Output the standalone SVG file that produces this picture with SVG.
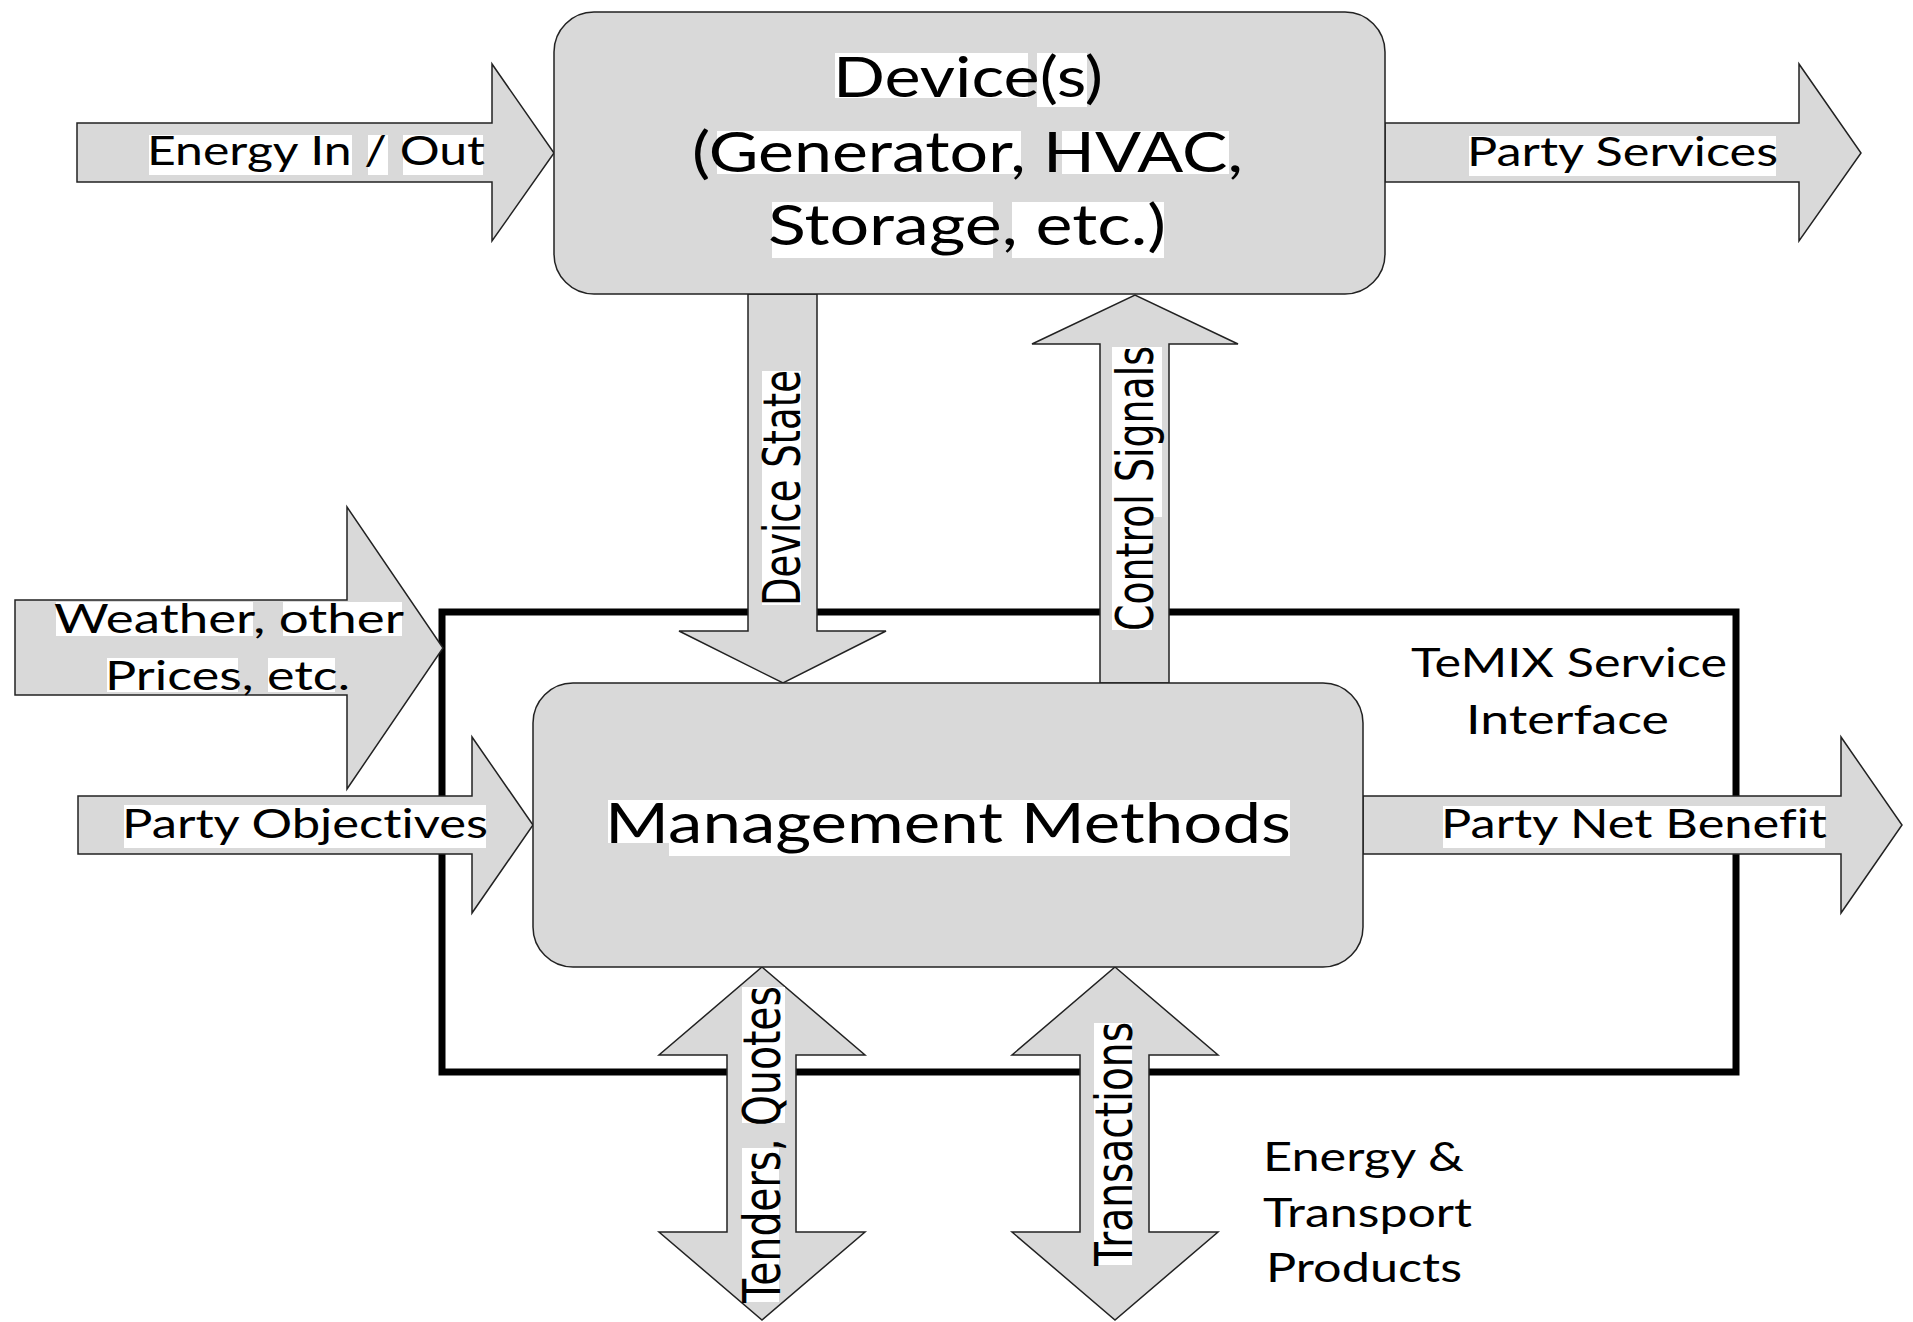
<svg xmlns="http://www.w3.org/2000/svg" width="1913" height="1322" viewBox="0 0 1913 1322">
<style>
.shape{fill:#d9d9d9;stroke:#222;stroke-width:1.5;stroke-linejoin:miter}
.hl{fill:#ffffff;stroke:none}
.t{font-family:Lato,"Liberation Sans",sans-serif;fill:#000;font-variant-ligatures:none}
.v{font-family:"DejaVu Sans","Liberation Sans",sans-serif;font-size:52px;fill:#000}
.frame{fill:none;stroke:#000;stroke-width:7}
</style>
<rect width="1913" height="1322" fill="#ffffff"/>

<g id="temix-interface">
<rect class="frame" x="442" y="612" width="1294" height="460"/>
<text class="t" x="1411" y="677" font-size="41" textLength="316" lengthAdjust="spacingAndGlyphs">TeMIX Service</text>
<text class="t" x="1466" y="734" font-size="41" textLength="203" lengthAdjust="spacingAndGlyphs">Interface</text>
</g>

<g id="connectors">
<g id="energy-in-out">
<polygon class="shape" points="77,123 492,123 492,64 554,153 492,241 492,182 77,182"/>
<rect class="hl" x="149" y="135" width="203" height="40"/><rect class="hl" x="368" y="135" width="20" height="40"/><rect class="hl" x="403" y="135" width="80" height="40"/>
<text class="t" x="147" y="165" font-size="40" textLength="338" lengthAdjust="spacingAndGlyphs">Energy In / Out</text>
</g>
<g id="party-services">
<polygon class="shape" points="1385,123 1799,123 1799,64 1861,153 1799,241 1799,182 1385,182"/>
<rect class="hl" x="1469" y="136" width="307" height="40"/>
<text class="t" x="1467" y="166" font-size="40" textLength="311" lengthAdjust="spacingAndGlyphs">Party Services</text>
</g>
<g id="weather">
<polygon class="shape" points="15,600 347,600 347,507 443,648 347,789 347,695 15,695"/>
<rect class="hl" x="56" y="602" width="197" height="34"/><rect class="hl" x="283" y="602" width="119" height="34"/>
<rect class="hl" x="107" y="658" width="131" height="34"/><rect class="hl" x="268" y="658" width="67" height="34"/>
<text class="t" x="54" y="633" font-size="41" textLength="350" lengthAdjust="spacingAndGlyphs">Weather, other</text>
<text class="t" x="105" y="690" font-size="41" textLength="245" lengthAdjust="spacingAndGlyphs">Prices, etc.</text>
</g>
<g id="party-objectives">
<polygon class="shape" points="78,796 472,796 472,737 533,825 472,913 472,854 78,854"/>
<rect class="hl" x="124" y="805" width="362" height="43"/>
<text class="t" x="122" y="838" font-size="40" textLength="366" lengthAdjust="spacingAndGlyphs">Party Objectives</text>
</g>
<g id="party-net-benefit">
<polygon class="shape" points="1363,796 1841,796 1841,737 1902,825 1841,913 1841,854 1363,854"/>
<rect class="hl" x="1443" y="806" width="382" height="42"/>
<text class="t" x="1441" y="838" font-size="40" textLength="386" lengthAdjust="spacingAndGlyphs">Party Net Benefit</text>
</g>
<g id="device-state">
<polygon class="shape" points="748,294 817,294 817,631 886,631 783,683 679,631 748,631"/>
<rect class="hl" x="762" y="371" width="39" height="234"/>
<text class="v" transform="translate(800,606) rotate(-90)" textLength="236" lengthAdjust="spacingAndGlyphs">Device State</text>
</g>
<g id="control-signals">
<polygon class="shape" points="1100,683 1169,683 1169,344 1238,344 1135,295 1032,344 1100,344"/>
<rect class="hl" x="1112" y="347" width="50" height="170"/><rect class="hl" x="1112" y="517" width="40" height="113"/>
<text class="v" transform="translate(1153,631) rotate(-90)" textLength="285" lengthAdjust="spacingAndGlyphs">Control Signals</text>
</g>
<g id="tenders-quotes">
<polygon class="shape" points="762,967 865,1055 796,1055 796,1232 865,1232 762,1320 659,1232 727,1232 727,1055 659,1055"/>
<rect class="hl" x="742" y="987" width="43" height="136"/><rect class="hl" x="742" y="1148" width="37" height="154"/>
<text class="v" transform="translate(780,1303) rotate(-90)" textLength="317" lengthAdjust="spacingAndGlyphs">Tenders, Quotes</text>
</g>
<g id="transactions">
<polygon class="shape" points="1115,967 1218,1055 1149,1055 1149,1232 1218,1232 1115,1320 1012,1232 1080,1232 1080,1055 1012,1055"/>
<rect class="hl" x="1094" y="1023" width="38" height="242"/>
<text class="v" transform="translate(1132,1266) rotate(-90)" textLength="244" lengthAdjust="spacingAndGlyphs">Transactions</text>
</g>
</g>

<g id="devices">
<rect class="shape" x="554" y="12" width="831" height="282" rx="40" ry="40"/>
<rect class="hl" x="835" y="53" width="193" height="45"/><rect class="hl" x="1037" y="53" width="50" height="54"/>
<rect class="hl" x="717" y="131" width="304" height="43"/><rect class="hl" x="1062" y="131" width="167" height="43"/>
<rect class="hl" x="772" y="202" width="221" height="56"/><rect class="hl" x="1012" y="202" width="152" height="56"/>
<text class="t" x="833" y="97" font-size="56" textLength="270" lengthAdjust="spacingAndGlyphs">Device(s)</text>
<text class="t" x="692" y="172" font-size="56" textLength="551" lengthAdjust="spacingAndGlyphs">(Generator, HVAC,</text>
<text class="t" x="768" y="245" font-size="56" textLength="398" lengthAdjust="spacingAndGlyphs">Storage, etc.)</text>
</g>

<g id="management-methods">
<rect class="shape" x="533" y="683" width="830" height="284" rx="40" ry="40"/>
<rect class="hl" x="608" y="800" width="61" height="43"/><rect class="hl" x="669" y="800" width="621" height="56"/>
<text class="t" x="605" y="843" font-size="57" textLength="686" lengthAdjust="spacingAndGlyphs">Management Methods</text>
</g>

<g id="energy-transport-products">
<text class="t" x="1263" y="1171" font-size="41" textLength="201" lengthAdjust="spacingAndGlyphs">Energy &amp;</text>
<text class="t" x="1263" y="1227" font-size="41" textLength="209" lengthAdjust="spacingAndGlyphs">Transport</text>
<text class="t" x="1266" y="1282" font-size="41" textLength="196" lengthAdjust="spacingAndGlyphs">Products</text>
</g>
</svg>
